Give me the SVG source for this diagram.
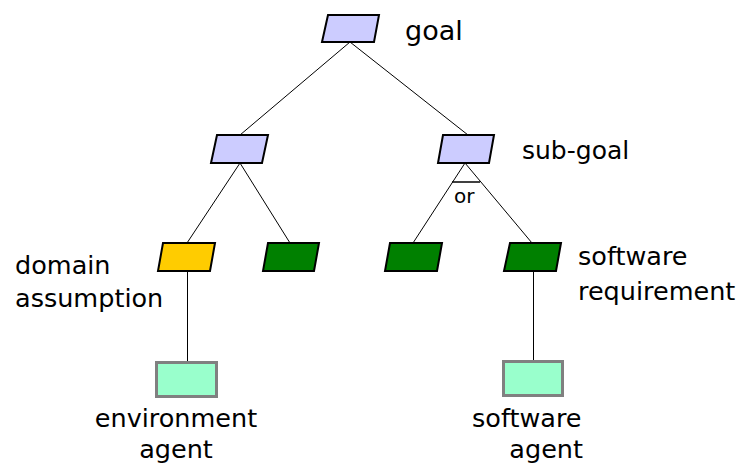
<svg xmlns="http://www.w3.org/2000/svg" width="744" height="467" viewBox="0 0 744 467">
<style>
.t{font-family:"DejaVu Sans","Liberation Sans",sans-serif;font-size:25.5px;fill:#000}
.pg{stroke:#000;stroke-width:2;stroke-linejoin:miter}
.goal{fill:#ccccff}
.dom{fill:#ffcc00}
.req{fill:#008000}
.ag{fill:#99ffcc;stroke:#808080;stroke-width:3}
.c{stroke:#000;stroke-width:1;fill:none}
</style>
<rect width="744" height="467" fill="#fff"/>
<g id="connectors">
<line class="c" x1="350" y1="42" x2="240" y2="135"/>
<line class="c" x1="350" y1="42" x2="468" y2="135"/>
<line class="c" x1="240" y1="163" x2="187" y2="243"/>
<line class="c" x1="240" y1="163" x2="290" y2="243"/>
<line class="c" x1="465" y1="163" x2="413" y2="243"/>
<line class="c" x1="465" y1="163" x2="532" y2="243"/>
<line class="c" x1="187.5" y1="271" x2="187.5" y2="361"/>
<line class="c" x1="533.5" y1="271" x2="533.5" y2="360"/>
<line x1="452" y1="182" x2="480" y2="182" stroke="#000" stroke-width="1.5"/>
<text class="t" x="454" y="203" style="font-size:20px">or</text>
</g>
<g id="goal">
<polygon class="pg goal" points="328,15 379,15 374,42 322,42"/>
<text class="t" x="405" y="40" style="font-size:27px">goal</text>
</g>
<g id="subgoal-left">
<polygon class="pg goal" points="217,135 268,135 262,163 211,163"/>
</g>
<g id="subgoal-right">
<polygon class="pg goal" points="443,135 494,135 489,163 438,163"/>
<text class="t" x="522" y="159" style="font-size:25px">sub-goal</text>
</g>
<g id="domain-assumption">
<polygon class="pg dom" points="163,243 215,243 210,271 158,271"/>
<text class="t" x="15" y="274">domain</text>
<text class="t" x="15" y="307">assumption</text>
</g>
<g id="req1">
<polygon class="pg req" points="268,243 319,243 314,271 263,271"/>
</g>
<g id="req2">
<polygon class="pg req" points="390,243 442,243 437,271 385,271"/>
</g>
<g id="software-requirement">
<polygon class="pg req" points="510,243 561,243 556,271 504,271"/>
<text class="t" x="578" y="265">software</text>
<text class="t" x="578" y="300">requirement</text>
</g>
<g id="environment-agent">
<rect class="ag" x="156.5" y="362.5" width="60" height="34"/>
<text class="t" x="176" y="427" text-anchor="middle">environment</text>
<text class="t" x="176" y="458" text-anchor="middle">agent</text>
</g>
<g id="software-agent">
<rect class="ag" x="503.5" y="361.5" width="59" height="34"/>
<text class="t" x="472" y="427">software</text>
<text class="t" x="583" y="458" text-anchor="end">agent</text>
</g>
</svg>
